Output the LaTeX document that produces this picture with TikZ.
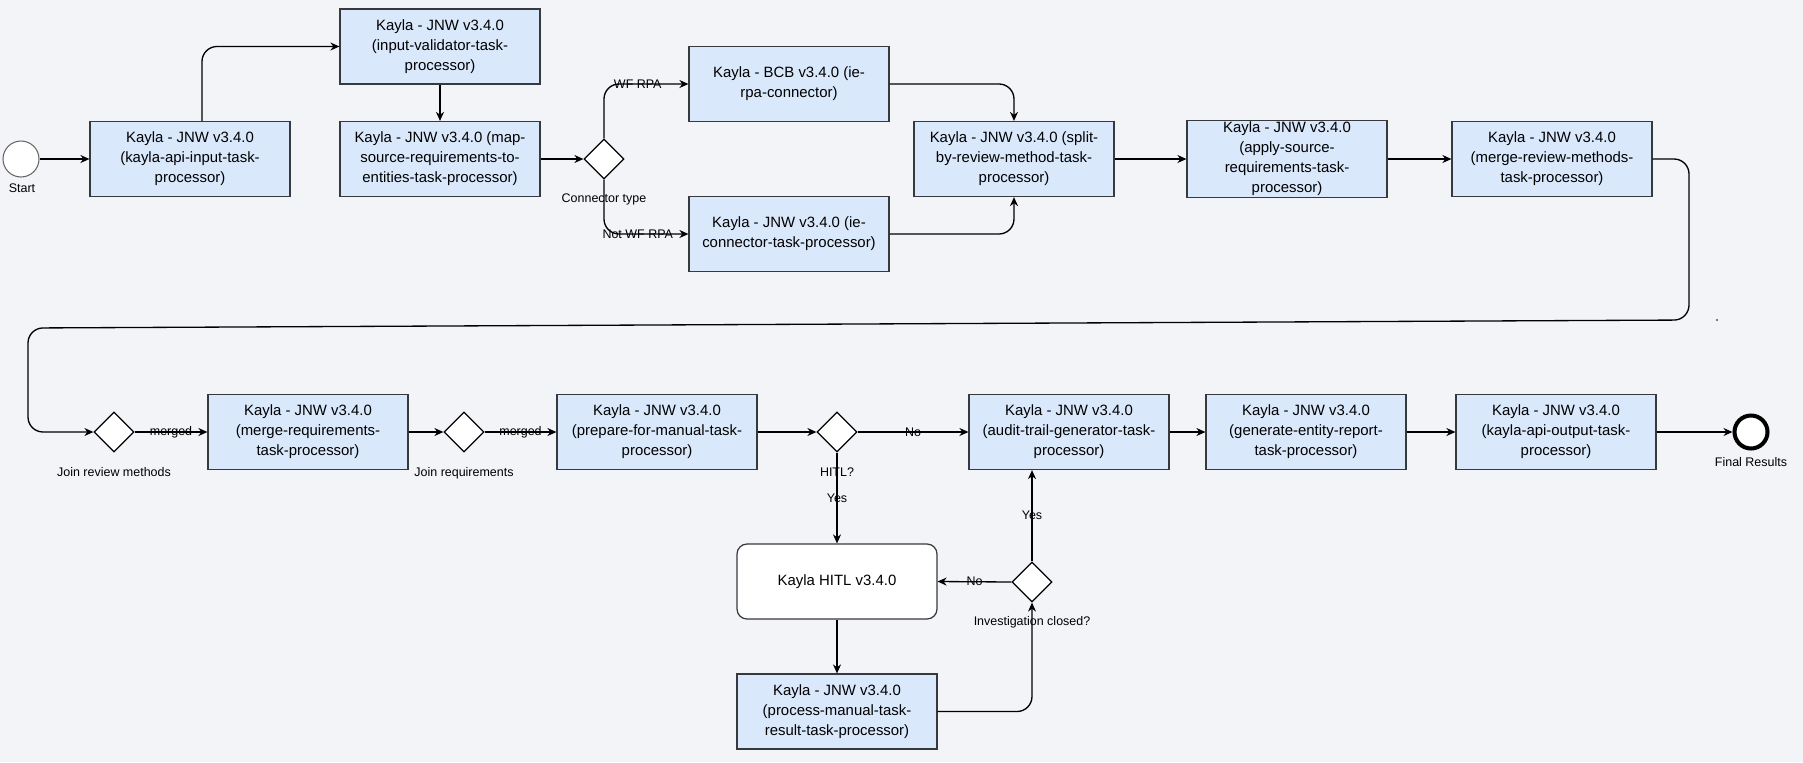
\documentclass[tikz,border=0pt]{standalone}
\usepackage{fontspec}
\setmainfont{Liberation Sans}
\usetikzlibrary{shapes.geometric, arrows.meta}
\definecolor{bgcol}{HTML}{F3F4F8}
\definecolor{taskfill}{HTML}{DAE8FC}
\definecolor{taskline}{HTML}{36393D}
\newcommand{\taskfont}{\fontsize{8.5}{11.4}\selectfont}
\newcommand{\lblfont}{\fontsize{7.1}{8.5}\selectfont}

\begin{document}
\begin{tikzpicture}[x=0.02cm, y=-0.02cm,
    task/.style={draw=taskline, fill=taskfill, line width=0.7pt, minimum width=4cm,
        minimum height=1.5cm, inner sep=1pt, align=center, font=\taskfont},
    human/.style={task, fill=white, rounded corners=0.2cm},
    gate/.style={diamond, draw, fill=white, line width=0.7pt, minimum size=0.8cm, inner sep=0pt},
    startev/.style={circle, draw=black!60, fill=white, line width=0.6pt, minimum size=0.72cm, inner sep=0pt},
    endev/.style={circle, draw, fill=white, line width=2.3pt, minimum size=0.66cm, inner sep=0pt},
    lbl/.style={font=\lblfont, inner sep=1pt},
    flow/.style={-{Stealth[length=0.18cm, width=0.16cm]}, line width=0.75pt}]

    % Background
    \path[use as bounding box, fill=bgcol] (0,0) rectangle (1803,762);

    % Top row
    \node[startev] (start) at (21,159) {};
    \node[lbl] (startl) at (22,188) {Start};
    \node[task] (b1) at (190,159) {Kayla - JNW v3.4.0\\(kayla-api-input-task-\\processor)};
    \node[task] (b2) at (440,46.5) {Kayla - JNW v3.4.0\\(input-validator-task-\\processor)};
    \node[task] (b3) at (440,159) {Kayla - JNW v3.4.0 (map-\\source-requirements-to-\\entities-task-processor)};
    \node[gate] (d1) at (604,159) {};
    \node[lbl] (d1l) at (604,199) {Connector type};
    \node[task] (bcb) at (789,84) {Kayla - BCB v3.4.0 (ie-\\rpa-connector)};
    \node[task] (iec) at (789,234) {Kayla - JNW v3.4.0 (ie-\\connector-task-processor)};
    \node[task] (split) at (1014,159) {Kayla - JNW v3.4.0 (split-\\by-review-method-task-\\processor)};
    \node[task] (apply) at (1287,159) {Kayla - JNW v3.4.0\\(apply-source-\\requirements-task-\\processor)};
    \node[task] (mrv) at (1552,159) {Kayla - JNW v3.4.0\\(merge-review-methods-\\task-processor)};

    % Bottom row
    \node[gate] (j1) at (114,432) {};
    \node[lbl] (j1l) at (114,472) {Join review methods};
    \node[task] (mrq) at (308,432) {Kayla - JNW v3.4.0\\(merge-requirements-\\task-processor)};
    \node[gate] (j2) at (464,432) {};
    \node[lbl] (j2l) at (464,473) {Join requirements};
    \node[task] (prep) at (657,432) {Kayla - JNW v3.4.0\\(prepare-for-manual-task-\\processor)};
    \node[gate] (hd) at (837,432) {};
    \node[lbl] (hdl) at (837,472) {HITL?};
    \node[task] (audit) at (1069,432) {Kayla - JNW v3.4.0\\(audit-trail-generator-task-\\processor)};
    \node[task] (gen) at (1306,432) {Kayla - JNW v3.4.0\\(generate-entity-report-\\task-processor)};
    \node[task] (out) at (1556,432) {Kayla - JNW v3.4.0\\(kayla-api-output-task-\\processor)};
    \node[endev] (fin) at (1751,432) {};
    \node[lbl] (finl) at (1751,462) {Final Results};

    % Manual review loop
    \node[human] (hitl) at (837,581.5) {Kayla HITL v3.4.0};
    \node[task] (pm) at (837,711.5) {Kayla - JNW v3.4.0\\(process-manual-task-\\result-task-processor)};
    \node[gate] (inv) at (1032,582) {};
    \node[lbl] (invl) at (1032,622) {Investigation closed?};

    % Straight flows
    \foreach \a/\b in {start/b1, b3/d1, split/apply, apply/mrv, mrq/j2, prep/hd,
        audit/gen, gen/out, out/fin}
        \draw[flow] (\a.east) -- (\b.west);
    \draw[flow] (b2.south) -- (b3.north);
    \draw[flow] (hitl.south) -- (pm.north);

    % Bent flows
    \draw[flow, rounded corners=0.3cm] ([xshift=0.24cm]b1.north) |- (b2.west);
    \draw[flow, rounded corners=0.3cm] (d1.north) |- node[lbl, pos=0.7] {WF RPA} (bcb.west);
    \draw[flow, rounded corners=0.3cm] (d1.south) |- node[lbl, pos=0.7] {Not WF RPA} (iec.west);
    \draw[flow, rounded corners=0.3cm] (bcb.east) -| (split.north);
    \draw[flow, rounded corners=0.3cm] (iec.east) -| (split.south);

    % Wrap to second row
    \coordinate (lp1) at (1689,320);
    \coordinate (lp2) at (28,328);
    \draw[flow, rounded corners=0.3cm] (mrv.east) -| (lp1) -- (lp2) |- (j1.west);
    \fill (1717,320) circle (0.5pt);

    % Labelled flows
    \draw[flow] (j1.east) -- node[lbl] {merged} (mrq.west);
    \draw[flow] (j2.east) -- node[lbl] {merged} (prep.west);
    \draw[flow] (hd.east) -- node[lbl] {No} (audit.west);
    \draw[flow] (hd.south) -- node[lbl] {Yes} (hitl.north);
    \draw[flow] (inv.west) -- node[lbl] {No} (hitl.east);
    \draw[flow] (inv.north) -- node[lbl] {Yes} (inv.north |- audit.south);
    \draw[flow, rounded corners=0.3cm] (pm.east) -| (inv.south);

\end{tikzpicture}
\end{document}
